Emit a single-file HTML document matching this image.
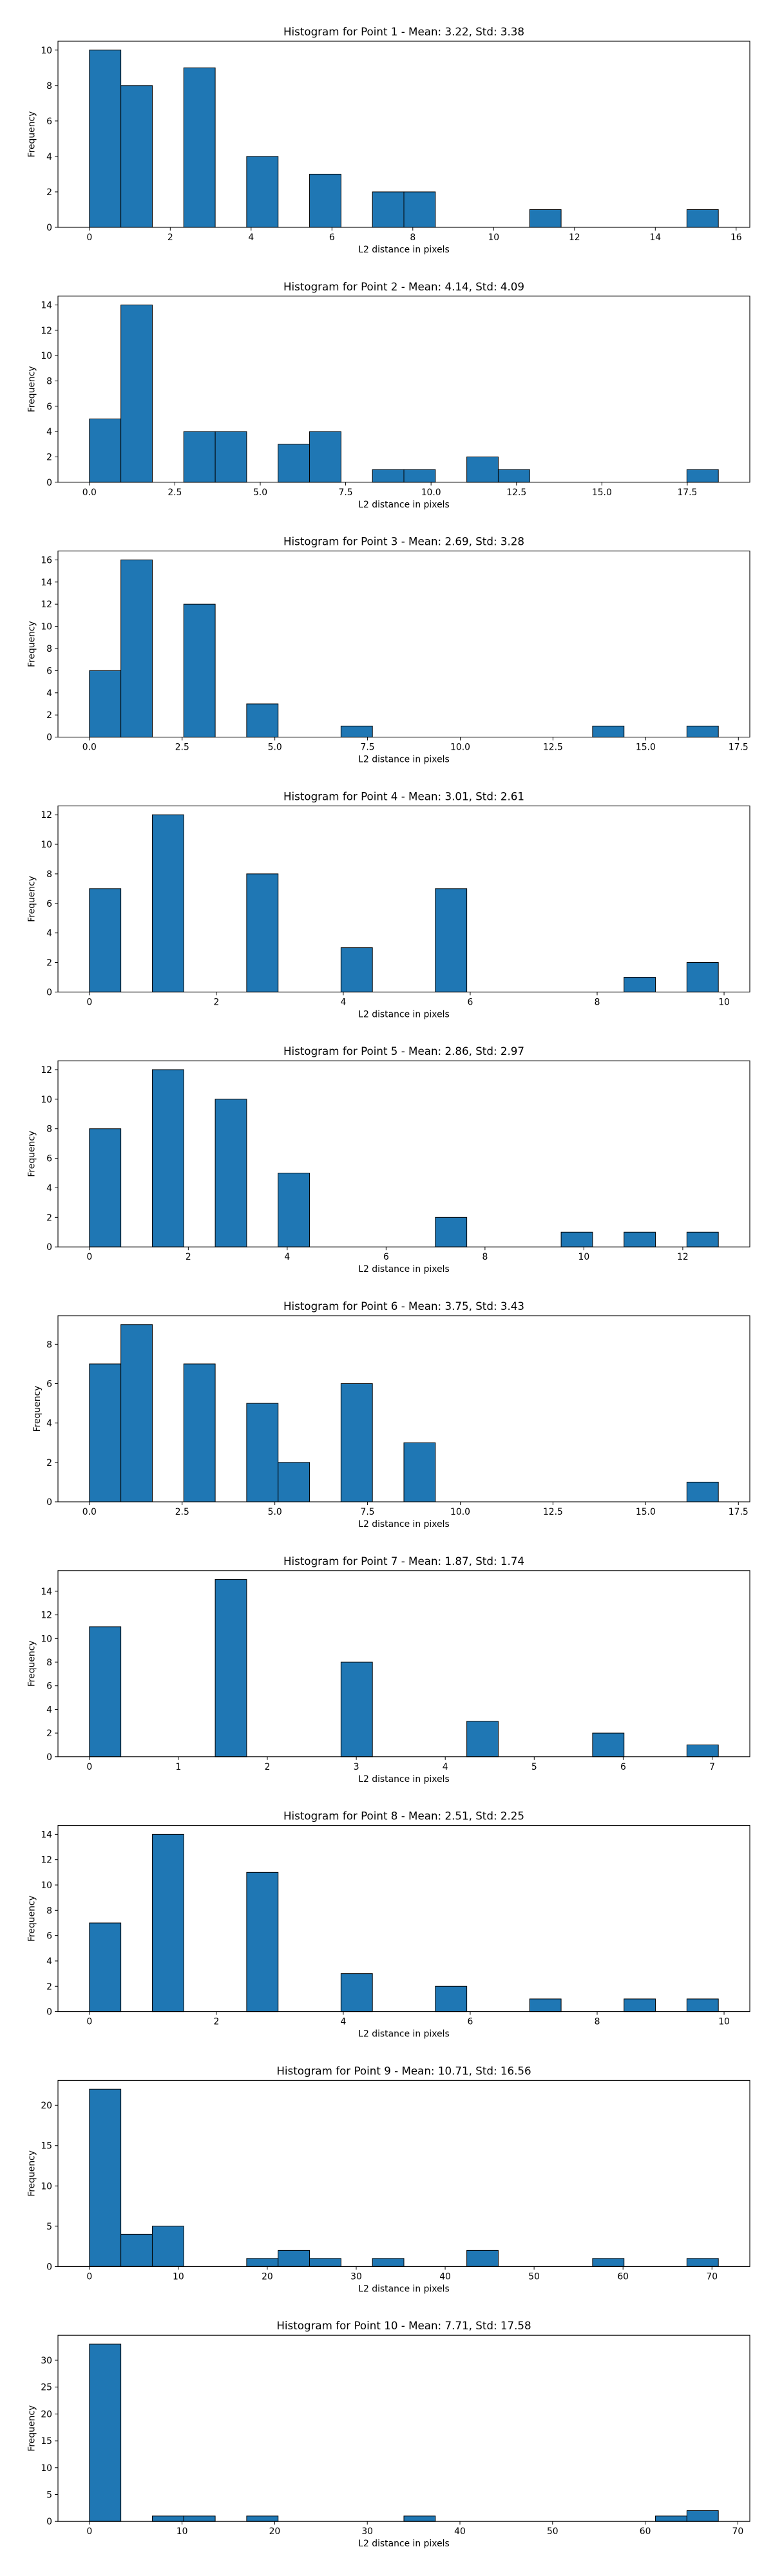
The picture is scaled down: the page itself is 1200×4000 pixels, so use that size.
<!DOCTYPE html>
<html>
<head>
<meta charset="utf-8">
<style>
html,body{margin:0;padding:0;background:#fff;}
svg{display:block;}
text{font-family:"DejaVu Sans","Liberation Sans",sans-serif;fill:#000;}
</style>
</head>
<body>
<svg id="fig" width="1200" height="4000" viewBox="0 0 1200 4000" xmlns="http://www.w3.org/2000/svg"></svg>
<script>
// ---- data ----
const titles = [
  "Histogram for Point 1 - Mean: 3.22, Std: 3.38",
  "Histogram for Point 2 - Mean: 4.14, Std: 4.09",
  "Histogram for Point 3 - Mean: 2.69, Std: 3.28",
  "Histogram for Point 4 - Mean: 3.01, Std: 2.61",
  "Histogram for Point 5 - Mean: 2.86, Std: 2.97",
  "Histogram for Point 6 - Mean: 3.75, Std: 3.43",
  "Histogram for Point 7 - Mean: 1.87, Std: 1.74",
  "Histogram for Point 8 - Mean: 2.51, Std: 2.25",
  "Histogram for Point 9 - Mean: 10.71, Std: 16.56",
  "Histogram for Point 10 - Mean: 7.71, Std: 17.58"
];
const binMin = [0, 0, 0, 0, 0, 0, 0, 0, 0, 0];
const binMax = [15.56, 18.41, 16.96, 9.91, 12.72, 16.96, 7.07, 9.91, 70.72, 67.9];
const counts1  = [10,8,0,9,0,4,0,3,0,2,2,0,0,0,1,0,0,0,0,1];
const counts2  = [5,14,0,4,4,0,3,4,0,1,1,0,2,1,0,0,0,0,0,1];
const counts3  = [6,16,0,12,0,3,0,0,1,0,0,0,0,0,0,0,1,0,0,1];
const counts4  = [7,0,12,0,0,8,0,0,3,0,0,7,0,0,0,0,0,1,0,2];
const counts5  = [8,0,12,0,10,0,5,0,0,0,0,2,0,0,0,1,0,1,0,1];
const counts6  = [7,9,0,7,0,5,2,0,6,0,3,0,0,0,0,0,0,0,0,1];
const counts7  = [11,0,0,0,15,0,0,0,8,0,0,0,3,0,0,0,2,0,0,1];
const counts8  = [7,0,14,0,0,11,0,0,3,0,0,2,0,0,1,0,0,1,0,1];
const counts9  = [22,4,5,0,0,1,2,1,0,1,0,0,2,0,0,0,1,0,0,1];
const counts10 = [33,0,1,1,0,1,0,0,0,0,1,0,0,0,0,0,0,0,1,2];
const allCounts = [counts1,counts2,counts3,counts4,counts5,counts6,counts7,counts8,counts9,counts10];
const xTicks = [
  [0,2,4,6,8,10,12,14,16],
  [0,2.5,5,7.5,10,12.5,15,17.5],
  [0,2.5,5,7.5,10,12.5,15,17.5],
  [0,2,4,6,8,10],
  [0,2,4,6,8,10,12],
  [0,2.5,5,7.5,10,12.5,15,17.5],
  [0,1,2,3,4,5,6,7],
  [0,2,4,6,8,10],
  [0,10,20,30,40,50,60,70],
  [0,10,20,30,40,50,60,70]
];
const xTickLabels = [
  ["0","2","4","6","8","10","12","14","16"],
  ["0.0","2.5","5.0","7.5","10.0","12.5","15.0","17.5"],
  ["0.0","2.5","5.0","7.5","10.0","12.5","15.0","17.5"],
  ["0","2","4","6","8","10"],
  ["0","2","4","6","8","10","12"],
  ["0.0","2.5","5.0","7.5","10.0","12.5","15.0","17.5"],
  ["0","1","2","3","4","5","6","7"],
  ["0","2","4","6","8","10"],
  ["0","10","20","30","40","50","60","70"],
  ["0","10","20","30","40","50","60","70"]
];
const yTicks = [
  [0,2,4,6,8,10],
  [0,2,4,6,8,10,12,14],
  [0,2,4,6,8,10,12,14,16],
  [0,2,4,6,8,10,12],
  [0,2,4,6,8,10,12],
  [0,2,4,6,8],
  [0,2,4,6,8,10,12,14],
  [0,2,4,6,8,10,12,14],
  [0,5,10,15,20],
  [0,5,10,15,20,25,30]
];

// ---- layout ----
const NS = "http://www.w3.org/2000/svg";
const svg = document.getElementById("fig");
const AX_L = 90, AX_R = 1164, AX_H = 289, TOP0 = 64, STEP = 395.8;

function mk(tag, attrs, parent) {
  const e = document.createElementNS(NS, tag);
  for (const k in attrs) e.setAttribute(k, attrs[k]);
  (parent || svg).appendChild(e);
  return e;
}

for (let p = 0; p < 10; p++) {
  const top = TOP0 + STEP * p, bot = top + AX_H;
  const lo = binMin[p], hi = binMax[p], R = hi - lo;
  const xmin = lo - 0.05 * R, xmax = hi + 0.05 * R;
  const cnt = allCounts[p];
  const ymax = Math.max(...cnt) * 1.05;
  const xs = v => AX_L + (v - xmin) / (xmax - xmin) * (AX_R - AX_L);
  const ys = v => bot - v / ymax * AX_H;

  const g = mk("g", {});
  
  

  const t = mk("text", {x: (AX_L + AX_R) / 2, y: top - 9, "text-anchor": "middle", "font-size": "16.7"}, g);
  t.textContent = titles[p];
  
  

  const bw = R / cnt.length;
  for (let i = 0; i < cnt.length; i++) {
    const x0 = xs(lo + i * bw), x1 = xs(lo + (i + 1) * bw);
    const y1 = ys(cnt[i]);
    const r = mk("rect", {x: x0, y: y1, width: x1 - x0, height: bot - y1, fill: "#1f77b4", stroke: "#000", "stroke-width": "1"}, g);
    
    
  }

  const frame = mk("rect", {x: AX_L, y: top, width: AX_R - AX_L, height: AX_H, fill: "none", stroke: "#000", "stroke-width": "1.1"}, g);
  
  

  xTicks[p].forEach((v, k) => {
    const x = xs(v);
    mk("line", {x1: x, x2: x, y1: bot, y2: bot + 5, stroke: "#000", "stroke-width": "1"}, g);
    const tl = mk("text", {x: x, y: bot + 20, "text-anchor": "middle", "font-size": "13.9"}, g);
    tl.textContent = xTickLabels[p][k];
    
    
  });
  let maxLen = 1;
  yTicks[p].forEach(v => {
    const y = ys(v);
    mk("line", {x1: AX_L - 5, x2: AX_L, y1: y, y2: y, stroke: "#000", "stroke-width": "1"}, g);
    const tl = mk("text", {x: AX_L - 9, y: y + 5, "text-anchor": "end", "font-size": "13.9"}, g);
    tl.textContent = String(v);
    maxLen = Math.max(maxLen, String(v).length);
    
    
  });

  const xl = mk("text", {x: (AX_L + AX_R) / 2, y: bot + 39, "text-anchor": "middle", "font-size": "13.9"}, g);
  xl.textContent = "L2 distance in pixels";
  
  

  const ylx = AX_L - 9 - maxLen * 8.8 - 10;
  const yl = mk("text", {x: ylx, y: (top + bot) / 2, "text-anchor": "middle", "font-size": "13.9", transform: "rotate(-90 " + ylx + " " + (top + bot) / 2 + ")"}, g);
  yl.textContent = "Frequency";
  
  
}
</script>
</body>
</html>
